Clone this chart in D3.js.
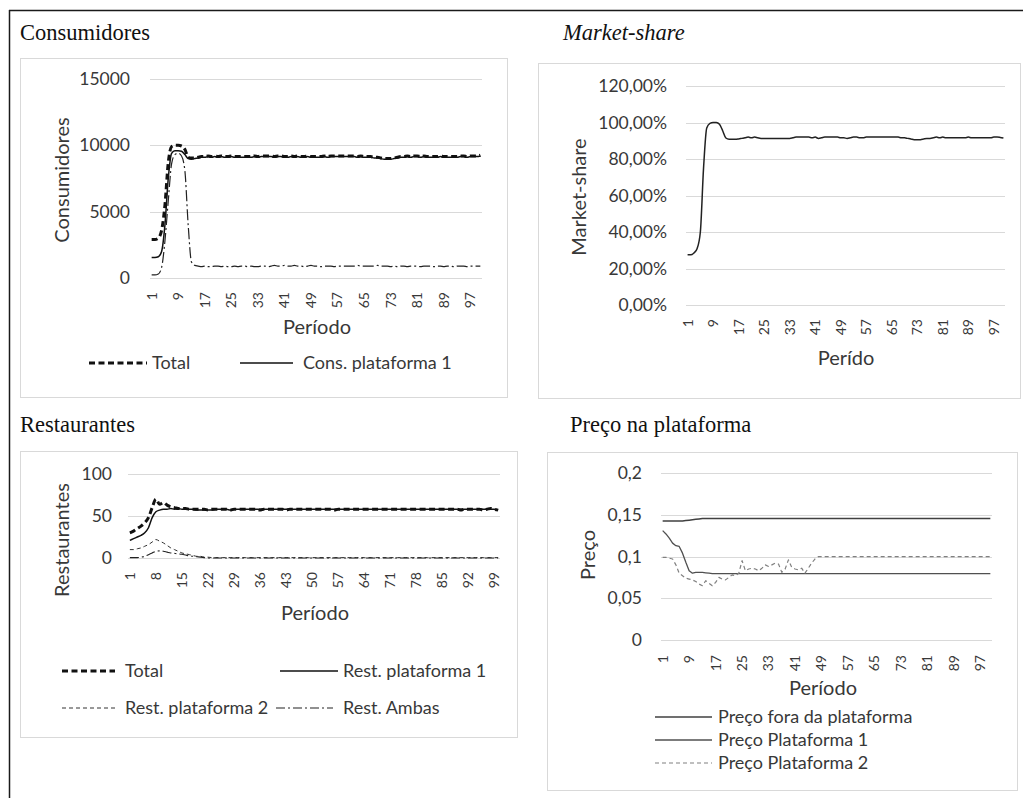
<!DOCTYPE html>
<html>
<head>
<meta charset="utf-8">
<script src="https://cdn.jsdelivr.net/npm/d3@7"></script>
<style>
  body { margin: 0; background: #fff; }
  svg { display: block; }
</style>
</head>
<body>
<svg id="fig" width="1023" height="798"></svg>
<script>
// ---------- data ----------
const periods = d3.range(1, 101);

const xTicksEvery8 = [1, 9, 17, 25, 33, 41, 49, 57, 65, 73, 81, 89, 97];
const xTicksEvery7 = [1, 8, 15, 22, 29, 36, 43, 50, 57, 64, 71, 78, 85, 92, 99];

// Consumidores
const consYTicks = [0, 5000, 10000, 15000];
const consYLabels = ["0", "5000", "10000", "15000"];
const consTotal = [
  2900, 2900, 3000, 3600, 5500, 8700, 9900, 10000, 10000, 9950,
  9700, 9100, 9050, 9050, 9100, 9150, 9150, 9200, 9150, 9200,
  9150, 9200, 9150, 9150, 9200, 9150, 9150, 9150, 9150, 9150,
  9150, 9200, 9150, 9200, 9200, 9200, 9200, 9150, 9200, 9200,
  9150, 9150, 9200, 9150, 9200, 9150, 9150, 9200, 9150, 9150,
  9150, 9150, 9200, 9150, 9200, 9200, 9200, 9200, 9200, 9200,
  9200, 9200, 9150, 9200, 9150, 9150, 9150, 9100, 9100, 9050,
  9000, 9000, 9000, 9050, 9100, 9150, 9150, 9200, 9150, 9200,
  9200, 9150, 9200, 9150, 9150, 9150, 9150, 9200, 9150, 9150,
  9150, 9150, 9150, 9200, 9200, 9150, 9200, 9200, 9200, 9250
];
const consPlat1 = [
  1550, 1550, 1600, 2000, 4000, 7500, 9400, 9600, 9600, 9550,
  9300, 9000, 8950, 9000, 9050, 9100, 9100, 9150, 9100, 9150,
  9100, 9150, 9100, 9100, 9150, 9100, 9100, 9100, 9100, 9100,
  9100, 9150, 9100, 9150, 9150, 9150, 9150, 9100, 9150, 9150,
  9100, 9100, 9150, 9100, 9150, 9100, 9100, 9150, 9100, 9100,
  9100, 9100, 9150, 9100, 9150, 9150, 9150, 9150, 9150, 9150,
  9150, 9150, 9100, 9150, 9100, 9100, 9100, 9050, 9050, 9000,
  8950, 8950, 8950, 9000, 9050, 9100, 9100, 9150, 9100, 9150,
  9150, 9100, 9150, 9100, 9100, 9100, 9100, 9150, 9100, 9100,
  9100, 9100, 9100, 9150, 9150, 9100, 9150, 9150, 9150, 9200
];
const consPlat2 = [
  230, 230, 300, 800, 2800, 5800, 8600, 9300, 9400, 9200,
  8100, 4000, 1200, 950, 900, 850, 900, 850, 850, 900,
  900, 850, 900, 850, 850, 900, 850, 900, 900, 850,
  900, 850, 850, 900, 900, 850, 900, 950, 900, 900,
  950, 900, 900, 950, 900, 900, 850, 900, 950, 900,
  900, 850, 900, 900, 900, 850, 900, 900, 900, 900,
  900, 900, 950, 900, 900, 900, 900, 900, 950, 900,
  900, 900, 850, 900, 850, 900, 900, 850, 900, 900,
  900, 850, 900, 900, 900, 850, 900, 900, 850, 900,
  900, 850, 900, 900, 900, 850, 900, 900, 900, 900
];

// Market-share
const msYTicks = [0, 0.2, 0.4, 0.6, 0.8, 1.0, 1.2];
const msYLabels = ["0,00%", "20,00%", "40,00%", "60,00%", "80,00%", "100,00%", "120,00%"];
const marketShare = [
  0.275, 0.275, 0.285, 0.31, 0.40, 0.75, 0.97, 0.995, 1.0, 1.0,
  0.99, 0.955, 0.915, 0.908, 0.908, 0.908, 0.91, 0.913, 0.916, 0.92,
  0.916, 0.92, 0.916, 0.913, 0.913, 0.913, 0.913, 0.913, 0.913, 0.913,
  0.913, 0.913, 0.913, 0.916, 0.92, 0.92, 0.92, 0.92, 0.92, 0.916,
  0.92, 0.913, 0.916, 0.92, 0.92, 0.92, 0.92, 0.92, 0.916, 0.916,
  0.913, 0.916, 0.92, 0.92, 0.916, 0.916, 0.92, 0.92, 0.92, 0.92,
  0.92, 0.92, 0.92, 0.92, 0.92, 0.92, 0.92, 0.916, 0.916, 0.913,
  0.91, 0.906, 0.906, 0.906, 0.91, 0.913, 0.913, 0.916, 0.92, 0.916,
  0.92, 0.916, 0.916, 0.916, 0.916, 0.916, 0.916, 0.916, 0.92, 0.916,
  0.916, 0.916, 0.916, 0.916, 0.916, 0.916, 0.92, 0.92, 0.918, 0.915
];

// Restaurantes
const restYTicks = [0, 50, 100];
const restYLabels = ["0", "50", "100"];
const restTotal = [
  30, 32, 35, 38, 42, 48, 60, 70, 64, 66,
  63, 61, 60, 59, 59, 59, 58, 58, 58, 58,
  58, 57, 58, 58, 58, 58, 58, 57, 58, 58,
  58, 58, 58, 58, 58, 57, 58, 58, 58, 58,
  58, 58, 57, 58, 58, 58, 58, 58, 58, 58,
  58, 58, 58, 58, 58, 57, 58, 58, 58, 58,
  58, 58, 58, 58, 58, 58, 58, 58, 58, 58,
  58, 58, 58, 58, 58, 58, 58, 58, 58, 58,
  58, 58, 58, 58, 58, 58, 58, 58, 58, 57,
  58, 58, 58, 58, 58, 57, 58, 59, 58, 57
];
const restPlat1 = [
  21, 23, 25, 27, 30, 36, 48, 55, 57, 58,
  58, 59, 58, 59, 58, 58, 58, 58, 57, 57,
  57, 57, 57, 58, 58, 58, 58, 57, 58, 58,
  58, 58, 58, 58, 58, 58, 58, 58, 58, 58,
  58, 58, 58, 58, 58, 58, 58, 58, 58, 58,
  58, 58, 58, 58, 58, 58, 58, 58, 58, 58,
  58, 58, 58, 58, 58, 58, 58, 58, 58, 58,
  58, 58, 58, 58, 58, 58, 58, 58, 58, 58,
  58, 58, 58, 58, 58, 58, 58, 58, 58, 58,
  58, 58, 58, 58, 58, 58, 58, 58, 58, 57
];
const restPlat2 = [
  10, 10, 11, 12, 14, 16, 19, 22, 20, 18,
  15, 12, 10, 8, 6, 5, 4, 3, 2, 2,
  1, 1, 0.5, 0.5, 0.5, 0.5, 0.5, 0.5, 0.5, 0.5,
  0.5, 0.5, 0.5, 0.5, 0.5, 0.5, 0.5, 0.5, 0.5, 0.5,
  0.5, 0.5, 0.5, 0.5, 0.5, 0.5, 0.5, 0.5, 0.5, 0.5,
  0.5, 0.5, 0.5, 0.5, 0.5, 0.5, 0.5, 0.5, 0.5, 0.5,
  0.5, 0.5, 0.5, 0.5, 0.5, 0.5, 0.5, 0.5, 0.5, 0.5,
  0.5, 0.5, 0.5, 0.5, 0.5, 0.5, 0.5, 0.5, 0.5, 0.5,
  0.5, 0.5, 0.5, 0.5, 0.5, 0.5, 0.5, 0.5, 0.5, 0.5,
  0.5, 0.5, 0.5, 0.5, 0.5, 0.5, 0.5, 0.5, 0.5, 0.5
];
const restAmbas = [
  0.5, 0.5, 0.5, 1, 2, 4, 6, 8, 8.5, 8,
  7, 6, 5.5, 5, 4.5, 3.5, 2.5, 2, 1.5, 1,
  0.5, 0, 0, 0, 0, 0, 0, 0, 0, 0,
  0, 0, 0, 0, 0, 0, 0, 0, 0, 0,
  0, 0, 0, 0, 0, 0, 0, 0, 0, 0,
  0, 0, 0, 0, 0, 0, 0, 0, 0, 0,
  0, 0, 0, 0, 0, 0, 0, 0, 0, 0,
  0, 0, 0, 0, 0, 0, 0, 0, 0, 0,
  0, 0, 0, 0, 0, 0, 0, 0, 0, 0,
  0, 0, 0, 0, 0, 0, 0, 0, 0, 0
];

// Preço na plataforma
const priceYTicks = [0, 0.05, 0.1, 0.15, 0.2];
const priceYLabels = ["0", "0,05", "0,1", "0,15", "0,2"];
const priceFora = [
  0.1425, 0.1425, 0.1425, 0.1425, 0.1425, 0.1425, 0.1425, 0.143, 0.1435, 0.144,
  0.1445, 0.145, 0.1455, 0.1455, 0.1455, 0.1455, 0.1455, 0.1455, 0.1455, 0.1455,
  0.1455, 0.1455, 0.1455, 0.1455, 0.1455, 0.1455, 0.1455, 0.1455, 0.1455, 0.1455,
  0.1455, 0.1455, 0.1455, 0.1455, 0.1455, 0.1455, 0.1455, 0.1455, 0.1455, 0.1455,
  0.1455, 0.1455, 0.1455, 0.1455, 0.1455, 0.1455, 0.1455, 0.1455, 0.1455, 0.1455,
  0.1455, 0.1455, 0.1455, 0.1455, 0.1455, 0.1455, 0.1455, 0.1455, 0.1455, 0.1455,
  0.1455, 0.1455, 0.1455, 0.1455, 0.1455, 0.1455, 0.1455, 0.1455, 0.1455, 0.1455,
  0.1455, 0.1455, 0.1455, 0.1455, 0.1455, 0.1455, 0.1455, 0.1455, 0.1455, 0.1455,
  0.1455, 0.1455, 0.1455, 0.1455, 0.1455, 0.1455, 0.1455, 0.1455, 0.1455, 0.1455,
  0.1455, 0.1455, 0.1455, 0.1455, 0.1455, 0.1455, 0.1455, 0.1455, 0.1455, 0.1455
];
const pricePlat1 = [
  0.131, 0.127, 0.122, 0.116, 0.113, 0.112, 0.104, 0.093, 0.083, 0.080,
  0.081, 0.081, 0.081, 0.0805, 0.080, 0.0795, 0.0795, 0.0795, 0.0795, 0.0795,
  0.0795, 0.0795, 0.0795, 0.0795, 0.0795, 0.0795, 0.0795, 0.0795, 0.0795, 0.0795,
  0.0795, 0.0795, 0.0795, 0.0795, 0.0795, 0.0795, 0.0795, 0.0795, 0.0795, 0.0795,
  0.0795, 0.0795, 0.0795, 0.0795, 0.0795, 0.0795, 0.0795, 0.0795, 0.0795, 0.0795,
  0.0795, 0.0795, 0.0795, 0.0795, 0.0795, 0.0795, 0.0795, 0.0795, 0.0795, 0.0795,
  0.0795, 0.0795, 0.0795, 0.0795, 0.0795, 0.0795, 0.0795, 0.0795, 0.0795, 0.0795,
  0.0795, 0.0795, 0.0795, 0.0795, 0.0795, 0.0795, 0.0795, 0.0795, 0.0795, 0.0795,
  0.0795, 0.0795, 0.0795, 0.0795, 0.0795, 0.0795, 0.0795, 0.0795, 0.0795, 0.0795,
  0.0795, 0.0795, 0.0795, 0.0795, 0.0795, 0.0795, 0.0795, 0.0795, 0.0795, 0.0795
];
const pricePlat2 = [
  0.099, 0.099, 0.098, 0.097, 0.090, 0.080, 0.077, 0.074, 0.073, 0.072,
  0.070, 0.067, 0.065, 0.071, 0.068, 0.065, 0.069, 0.075, 0.073, 0.072,
  0.075, 0.078, 0.077, 0.080, 0.095, 0.083, 0.085, 0.086, 0.085, 0.083,
  0.086, 0.090, 0.088, 0.090, 0.092, 0.091, 0.081, 0.085, 0.096, 0.087,
  0.085, 0.084, 0.086, 0.080, 0.086, 0.092, 0.097, 0.0998, 0.0998, 0.0998,
  0.0998, 0.0998, 0.0998, 0.0998, 0.0998, 0.0998, 0.0998, 0.0998, 0.0998, 0.0998,
  0.0998, 0.0998, 0.0998, 0.0998, 0.0998, 0.0998, 0.0998, 0.0998, 0.0998, 0.0998,
  0.0998, 0.0998, 0.0998, 0.0998, 0.0998, 0.0998, 0.0998, 0.0998, 0.0998, 0.0998,
  0.0998, 0.0998, 0.0998, 0.0998, 0.0998, 0.0998, 0.0998, 0.0998, 0.0998, 0.0998,
  0.0998, 0.0998, 0.0998, 0.0998, 0.0998, 0.0998, 0.0998, 0.0998, 0.0998, 0.0998
];

// ---------- drawing ----------
const SANS = "Lato, 'Open Sans', sans-serif";
const SERIF = "'Liberation Serif', 'DejaVu Serif', serif";
const TXT = "#383838";
const GRID = "#d9d9d9";

const svg = d3.select("#fig");
svg.append("rect").attr("width", 1023).attr("height", 798).attr("fill", "#fff");

// page frame (top and left rules)
svg.append("line").attr("x1", 9).attr("x2", 1023).attr("y1", 10.5).attr("y2", 10.5)
  .attr("stroke", "#1a1a1a").attr("stroke-width", 1.5);
svg.append("line").attr("x1", 9.5).attr("x2", 9.5).attr("y1", 10).attr("y2", 798)
  .attr("stroke", "#1a1a1a").attr("stroke-width", 1.5);

function drawPanel(cfg) {
  const g = svg.append("g");

  // section heading above the chart box
  g.append("text")
    .attr("x", cfg.heading.x).attr("y", cfg.heading.y)
    .attr("font-family", SERIF).attr("font-size", 22.5)
    .attr("font-style", cfg.heading.italic ? "italic" : "normal")
    .attr("fill", "#111").text(cfg.heading.text);

  // chart box
  const [bx, by, bw, bh] = cfg.box;
  g.append("rect").attr("x", bx + 0.5).attr("y", by + 0.5).attr("width", bw).attr("height", bh)
    .attr("fill", "#fff").attr("stroke", GRID).attr("stroke-width", 1);

  const x = d3.scaleBand().domain(periods).range([cfg.l, cfg.r]);
  const y = d3.scaleLinear().domain(cfg.yDomain).range([cfg.b, cfg.t]);
  const cx = i => x(periods[i]) + x.bandwidth() / 2;

  // horizontal gridlines
  g.append("g").selectAll("line").data(cfg.yTicks).join("line")
    .attr("x1", cfg.l).attr("x2", cfg.r)
    .attr("y1", d => Math.round(y(d)) + 0.5).attr("y2", d => Math.round(y(d)) + 0.5)
    .attr("stroke", GRID).attr("stroke-width", 1);

  // value axis
  const yAxis = d3.axisLeft(y).tickValues(cfg.yTicks)
    .tickFormat(d => cfg.yLabels[cfg.yTicks.indexOf(d)])
    .tickSize(0).tickPadding(cfg.l - cfg.yLabelRight);
  const ya = g.append("g").attr("transform", `translate(${cfg.l},0)`).call(yAxis)
    .attr("font-family", null).attr("font-size", null);
  ya.select(".domain").remove();
  ya.selectAll("text").attr("font-family", SANS).attr("font-size", 17.5).attr("fill", TXT);

  // category axis with vertical labels
  const xAxis = d3.axisBottom(x).tickValues(cfg.xTicks).tickSize(0);
  const xa = g.append("g").attr("transform", `translate(0,${cfg.b})`).call(xAxis)
    .attr("font-family", null).attr("font-size", null);
  xa.select(".domain").remove();
  xa.selectAll("text")
    .attr("transform", "rotate(-90)")
    .attr("x", -cfg.xLabelGap).attr("y", 0).attr("dy", "0.35em")
    .attr("text-anchor", "end")
    .attr("font-family", SANS).attr("font-size", 14).attr("fill", TXT);

  // axis titles
  g.append("text").attr("transform", `translate(${cfg.yTitle[0]},${cfg.yTitle[1]}) rotate(-90)`)
    .attr("text-anchor", "middle").attr("dy", "0.35em")
    .attr("font-family", SANS).attr("font-size", 20).attr("fill", TXT).text(cfg.yTitleText);
  g.append("text").attr("x", cfg.xTitle[0]).attr("y", cfg.xTitle[1])
    .attr("text-anchor", "middle").attr("dy", "0.35em")
    .attr("font-family", SANS).attr("font-size", 20).attr("fill", TXT).text(cfg.xTitleText);

  // series
  cfg.series.forEach(s => {
    const line = d3.line().x((d, i) => cx(i)).y(d => y(d)).curve(cfg.curve);
    g.append("path").datum(s.values).attr("d", line)
      .attr("fill", "none").attr("stroke", s.color).attr("stroke-width", s.width)
      .attr("stroke-dasharray", s.dash || null)
      .attr("stroke-linejoin", "round");
  });

  // legend
  cfg.legend.forEach(it => {
    const s = cfg.series[it.series];
    g.append("line").attr("x1", it.x1).attr("x2", it.x2).attr("y1", it.y).attr("y2", it.y)
      .attr("stroke", s.color).attr("stroke-width", s.width)
      .attr("stroke-dasharray", s.dash || null);
    g.append("text").attr("x", it.tx).attr("y", it.y).attr("dy", "0.35em")
      .attr("font-family", SANS).attr("font-size", 18).attr("fill", TXT).text(s.name);
  });
}

drawPanel({
  heading: { text: "Consumidores", x: 20, y: 40 },
  box: [20, 58, 487, 339],
  l: 150, r: 482, t: 79, b: 278,
  yDomain: [0, 15000], yTicks: consYTicks, yLabels: consYLabels, yLabelRight: 130,
  xTicks: xTicksEvery8, xLabelGap: 14,
  yTitleText: "Consumidores", yTitle: [62, 180],
  xTitleText: "Período", xTitle: [317, 327],
  curve: d3.curveMonotoneX,
  series: [
    { name: "Total", values: consTotal, color: "#111", width: 3, dash: "6,3.5" },
    { name: "Cons. plataforma 1", values: consPlat1, color: "#111", width: 1.5 },
    { name: "Cons. plataforma 2", values: consPlat2, color: "#222", width: 1.2, dash: "11,3,2,3" }
  ],
  legend: [
    { series: 0, x1: 89, x2: 147, tx: 152, y: 363 },
    { series: 1, x1: 240, x2: 293, tx: 303, y: 363 }
  ]
});

drawPanel({
  heading: { text: "Market-share", x: 563, y: 40, italic: true },
  box: [538, 63, 482, 335],
  l: 686, r: 1005, t: 86, b: 305,
  yDomain: [0, 1.2], yTicks: msYTicks, yLabels: msYLabels, yLabelRight: 667,
  xTicks: xTicksEvery8, xLabelGap: 14,
  yTitleText: "Market-share", yTitle: [579, 197],
  xTitleText: "Perído", xTitle: [846, 358],
  curve: d3.curveMonotoneX,
  series: [
    { name: "Market-share", values: marketShare, color: "#222", width: 1.5 }
  ],
  legend: []
});

drawPanel({
  heading: { text: "Restaurantes", x: 20, y: 432 },
  box: [20, 451, 497, 286],
  l: 128, r: 500, t: 474, b: 558,
  yDomain: [0, 100], yTicks: restYTicks, yLabels: restYLabels, yLabelRight: 112,
  xTicks: xTicksEvery7, xLabelGap: 14,
  yTitleText: "Restaurantes", yTitle: [62, 540],
  xTitleText: "Período", xTitle: [315, 613],
  curve: d3.curveMonotoneX,
  series: [
    { name: "Total", values: restTotal, color: "#111", width: 3, dash: "6,3.5" },
    { name: "Rest. plataforma 1", values: restPlat1, color: "#111", width: 1.5 },
    { name: "Rest. plataforma 2", values: restPlat2, color: "#333", width: 1, dash: "4,3" },
    { name: "Rest. Ambas", values: restAmbas, color: "#222", width: 1.1, dash: "9,3,2,3" }
  ],
  legend: [
    { series: 0, x1: 62, x2: 115, tx: 125, y: 671 },
    { series: 1, x1: 280, x2: 338, tx: 343, y: 671 },
    { series: 2, x1: 62, x2: 115, tx: 125, y: 708 },
    { series: 3, x1: 276, x2: 333, tx: 343, y: 708 }
  ]
});

drawPanel({
  heading: { text: "Preço na plataforma", x: 570, y: 432 },
  box: [547, 452, 470, 338],
  l: 661, r: 992, t: 473, b: 640,
  yDomain: [0, 0.2], yTicks: priceYTicks, yLabels: priceYLabels, yLabelRight: 642,
  xTicks: xTicksEvery8, xLabelGap: 15,
  yTitleText: "Preço", yTitle: [588, 555],
  xTitleText: "Período", xTitle: [823, 688],
  curve: d3.curveLinear,
  series: [
    { name: "Preço fora da plataforma", values: priceFora, color: "#404040", width: 1.5 },
    { name: "Preço Plataforma 1", values: pricePlat1, color: "#505050", width: 1.3 },
    { name: "Preço Plataforma 2", values: pricePlat2, color: "#808080", width: 1.2, dash: "4,3" }
  ],
  legend: [
    { series: 0, x1: 655, x2: 712, tx: 718, y: 717 },
    { series: 1, x1: 655, x2: 712, tx: 718, y: 740 },
    { series: 2, x1: 655, x2: 712, tx: 718, y: 763 }
  ]
});
</script>
</body>
</html>
